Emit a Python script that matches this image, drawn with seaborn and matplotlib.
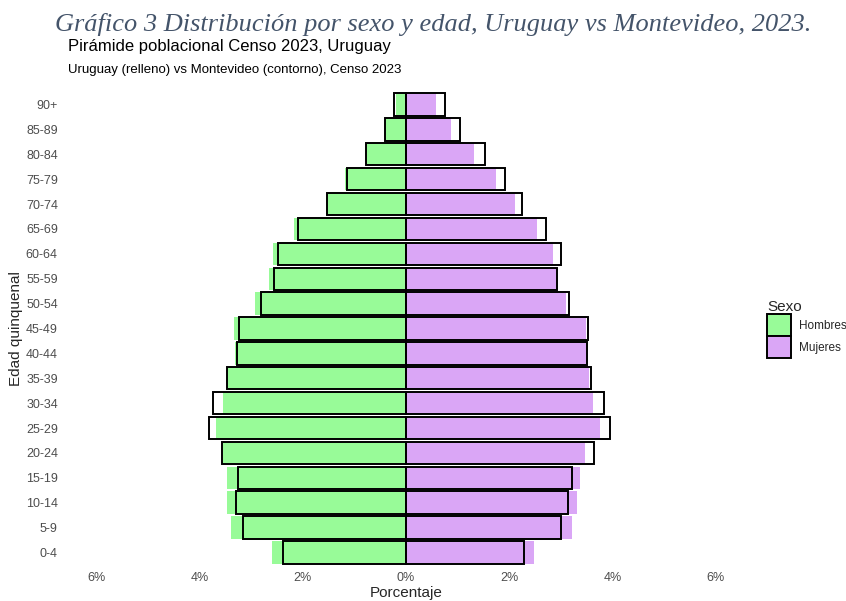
import pandas as pd
import matplotlib
matplotlib.use("Agg")
import matplotlib.pyplot as plt
from matplotlib.patches import Patch
import seaborn as sns

# age groups, top to bottom
edades = ["90+", "85-89", "80-84", "75-79", "70-74", "65-69", "60-64", "55-59",
          "50-54", "45-49", "40-44", "35-39", "30-34", "25-29", "20-24",
          "15-19", "10-14", "5-9", "0-4"]

# % of population, Uruguay (filled bars)
uy_hombres = [0.19, 0.40, 0.76, 1.19, 1.55, 2.17, 2.57, 2.65, 2.93, 3.33,
              3.31, 3.47, 3.54, 3.67, 3.54, 3.46, 3.47, 3.38, 2.60]
uy_mujeres = [0.59, 0.88, 1.32, 1.74, 2.11, 2.53, 2.84, 2.90, 3.09, 3.48,
              3.48, 3.54, 3.63, 3.75, 3.47, 3.36, 3.32, 3.22, 2.48]

# % of population, Montevideo (outlined bars)
mv_hombres = [0.23, 0.41, 0.77, 1.15, 1.53, 2.09, 2.48, 2.56, 2.80, 3.23,
              3.27, 3.46, 3.73, 3.82, 3.56, 3.26, 3.29, 3.15, 2.39]
mv_mujeres = [0.75, 1.04, 1.52, 1.92, 2.24, 2.71, 3.01, 2.92, 3.15, 3.53,
              3.50, 3.59, 3.84, 3.95, 3.64, 3.21, 3.13, 3.00, 2.28]

sexos = ["Hombres", "Mujeres"]
colores = {"Hombres": "#98FB98", "Mujeres": "#DAA6F6"}


def armar(hombres, mujeres):
    df_h = pd.DataFrame({"edad": edades, "pct": [-v for v in hombres], "sexo": "Hombres"})
    df_m = pd.DataFrame({"edad": edades, "pct": mujeres, "sexo": "Mujeres"})
    return pd.concat([df_h, df_m], ignore_index=True)


df_uy = armar(uy_hombres, uy_mujeres)
df_mv = armar(mv_hombres, mv_mujeres)

sns.set_theme(style="white")
plt.rcParams["font.family"] = ["Liberation Sans", "DejaVu Sans"]

fig = plt.figure(figsize=(8.46, 6.01), dpi=100)
ax = fig.add_axes([0.0733, 0.0559, 0.8132, 0.7951])

sns.barplot(data=df_uy, y="edad", x="pct", hue="sexo", order=edades,
            hue_order=sexos, palette=colores, saturation=1, dodge=False,
            width=0.9, orient="h", linewidth=0, legend=False, ax=ax)

n = len(ax.patches)
sns.barplot(data=df_mv, y="edad", x="pct", hue="sexo", order=edades,
            hue_order=sexos, palette=colores, saturation=1, dodge=False,
            width=0.9, orient="h", legend=False, ax=ax)
# Montevideo: outline only
for p in ax.patches[n:]:
    p.set_facecolor("none")
    p.set_edgecolor("black")
    p.set_linewidth(1.4)

ax.set_xlim(-6.66, 6.66)
ax.set_ylim(18.6, -0.6)
ticks = [-6, -4, -2, 0, 2, 4, 6]
ax.set_xticks(ticks)
ax.set_xticklabels([f"{abs(t)}%" for t in ticks])
ax.tick_params(axis="both", length=0, labelsize=9, labelcolor="#4d4d4d", pad=3)
ax.set_xlabel("Porcentaje", fontsize=11, labelpad=2)
ax.set_ylabel("Edad quinquenal", fontsize=11)
ax.yaxis.set_label_coords(-0.0567, 0.5)
sns.despine(ax=ax, left=True, bottom=True)
ax.grid(False)

fig.text(0.512, 0.960, "Gráfico 3 Distribución por sexo y edad, Uruguay vs Montevideo, 2023.",
         family="Liberation Serif", style="italic", fontsize=19, color="#44546A",
         ha="center", va="center")
fig.text(0.080, 0.922, "Pirámide poblacional Censo 2023, Uruguay",
         fontsize=12, color="black", ha="left", va="center")
fig.text(0.080, 0.884, "Uruguay (relleno) vs Montevideo (contorno), Censo 2023",
         fontsize=9.5, color="black", ha="left", va="center")

handles = [Patch(facecolor=colores[s], edgecolor="black", linewidth=1.4, label=s) for s in sexos]
leg = fig.legend(handles=handles, title="Sexo", loc="upper left",
                 bbox_to_anchor=(0.907, 0.501), frameon=False, fontsize=8.5,
                 title_fontsize=11, handlelength=2.0, handleheight=2.5,
                 handletextpad=0.7, labelspacing=0.0, borderpad=0,
                 borderaxespad=0)
leg._legend_box.align = "left"

fig.savefig("out.png", dpi=100, facecolor="white")
